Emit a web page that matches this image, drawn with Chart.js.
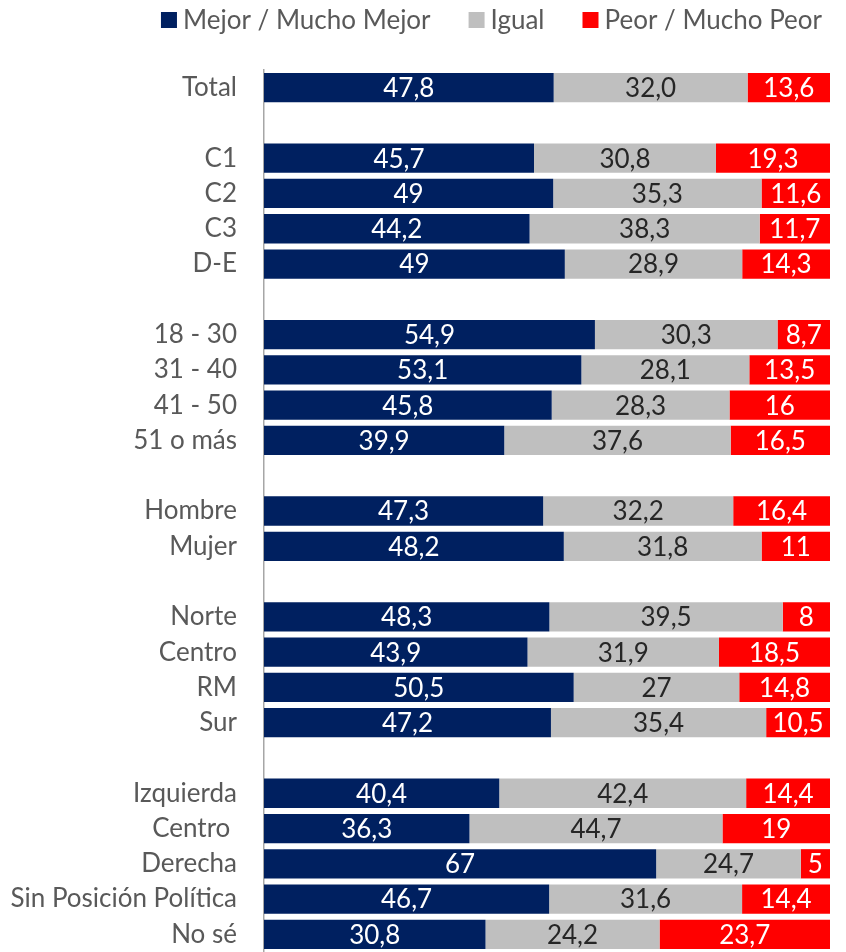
<!DOCTYPE html>
<html>
<head>
<meta charset="utf-8">
<script src="https://cdn.jsdelivr.net/npm/chart.js@4"></script>
<style>
  body { margin: 0; background: #fff; }
  canvas { display: block; }
</style>
</head>
<body>
<canvas id="chart" width="846" height="952"></canvas>
<script>
// '' rows are the blank spacers between groups
const categories = [
  'Total', '',
  'C1', 'C2', 'C3', 'D-E', '',
  '18 - 30', '31 - 40', '41 - 50', '51 o más', '',
  'Hombre', 'Mujer', '',
  'Norte', 'Centro', 'RM', 'Sur', '',
  'Izquierda', 'Centro ', 'Derecha', 'Sin Posición Política', 'No sé'
]
const mejor = [
  47.8, null,
  45.7, 49, 44.2, 49, null,
  54.9, 53.1, 45.8, 39.9, null,
  47.3, 48.2, null,
  48.3, 43.9, 50.5, 47.2, null,
  40.4, 36.3, 67, 46.7, 30.8
]
const igual = [
  32.0, null,
  30.8, 35.3, 38.3, 28.9, null,
  30.3, 28.1, 28.3, 37.6, null,
  32.2, 31.8, null,
  39.5, 31.9, 27, 35.4, null,
  42.4, 44.7, 24.7, 31.6, 24.2
]
const peor = [
  13.6, null,
  19.3, 11.6, 11.7, 14.3, null,
  8.7, 13.5, 16, 16.5, null,
  16.4, 11, null,
  8, 18.5, 14.8, 10.5, null,
  14.4, 19, 5, 14.4, 23.7
]
const seriesNames = ['Mejor / Mucho Mejor', 'Igual', 'Peor / Mucho Peor']
const colors = ['#002060', '#bfbfbf', '#ff0000']
const textColors = ['#ffffff', '#262626', '#ffffff']

const FONT = 'Lato, "Noto Sans", sans-serif'
const raw = [mejor, igual, peor]

// bars are drawn as share of the row total (100% stacked)
const share = raw.map(series => series.map((v, i) => {
  if (v === null) return null
  const sum = mejor[i] + igual[i] + peor[i]
  return v / sum * 100
}))

const fmt = (v, row) => row === 0 ? v.toFixed(1).replace('.', ',') : String(v).replace('.', ',')

const valueLabels = {
  id: 'valueLabels',
  afterDatasetsDraw(chart) {
    const ctx = chart.ctx
    ctx.save()
    ctx.textAlign = 'center'
    ctx.textBaseline = 'middle'
    ctx.font = '26px ' + FONT
    chart.data.datasets.forEach((dataset, di) => {
      const meta = chart.getDatasetMeta(di)
      meta.data.forEach((bar, i) => {
        const v = raw[di][i]
        if (v === null) return
        ctx.fillStyle = textColors[di]
        ctx.fillText(fmt(v, i), (bar.x + bar.base) / 2, bar.y + 1)
      })
    })
    ctx.restore()
  }
}

const topLegend = {
  id: 'topLegend',
  afterDraw(chart) {
    const ctx = chart.ctx
    ctx.save()
    ctx.font = '26px ' + FONT
    ctx.textBaseline = 'middle'
    const box = 16, gapText = 6, gapItem = 38
    const widths = seriesNames.map(n => box + gapText + ctx.measureText(n).width)
    const total = widths.reduce((a, b) => a + b, 0) + gapItem * (widths.length - 1)
    let x = 822 - total
    const y = 20
    seriesNames.forEach((name, i) => {
      ctx.fillStyle = colors[i]
      ctx.fillRect(x, y - box / 2, box, box)
      ctx.fillStyle = '#595959'
      ctx.fillText(name, x + box + gapText, y + 1)
      x += widths[i] + gapItem
    })
    ctx.restore()
  }
}

new Chart(document.getElementById('chart'), {
  type: 'bar',
  data: {
    labels: categories,
    datasets: seriesNames.map((name, i) => ({
      label: name,
      data: share[i],
      backgroundColor: colors[i],
      borderWidth: 0,
      barPercentage: 0.83,
      categoryPercentage: 1
    }))
  },
  options: {
    indexAxis: 'y',
    responsive: false,
    animation: false,
    layout: {
      padding: { top: 70, right: 16, bottom: 0, left: 0 }
    },
    scales: {
      x: {
        stacked: true,
        display: false,
        min: 0,
        max: 100
      },
      y: {
        stacked: true,
        grid: { display: false, drawTicks: false },
        border: { display: true, color: '#a6a6a6', width: 1.5 },
        ticks: {
          color: '#595959',
          font: { family: FONT, size: 26 },
          padding: 27,
          autoSkip: false
        },
        afterFit(scale) {
          scale.width = 264
          // let the rows fill the full height down to the canvas edge
          scale.paddingTop = 0
          scale.paddingBottom = 0
        }
      }
    },
    plugins: {
      legend: { display: false },
      tooltip: { enabled: false }
    }
  },
  plugins: [valueLabels, topLegend]
})
</script>
</body>
</html>
